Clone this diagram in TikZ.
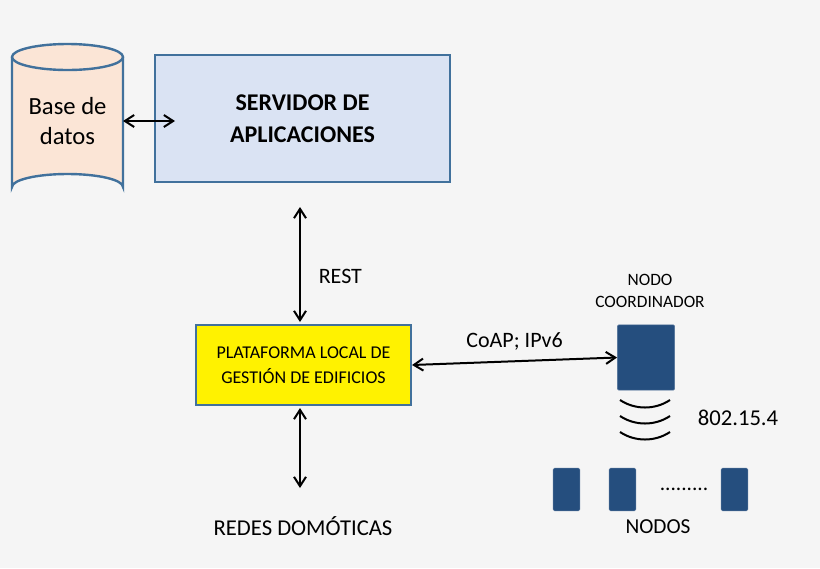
\documentclass[tikz,border=0pt]{standalone}
\usepackage{fontspec}
\setmainfont{Carlito}
\usepackage{tikz}
\usetikzlibrary{arrows.meta}
\definecolor{bordeazul}{HTML}{41719C}
\definecolor{azulnodo}{HTML}{254E7E}
\definecolor{melocoton}{HTML}{FBE5D6}
\definecolor{azulclaro}{HTML}{DAE3F3}
\tikzset{
	flecha/.style={{Straight Barb[length=7pt, width=9pt]}-{Straight Barb[length=7pt, width=9pt]}, line width=1.5pt},
	caja/.style={draw=bordeazul, line width=1.8pt},
	nodo/.style={fill=azulnodo, draw=azulnodo!80, rounded corners=1pt, inner sep=0pt},
}
\begin{document}
\begin{tikzpicture}[x=0.75pt, y=-0.75pt]
	\fill[black!4] (0,0) rectangle (820,568);
	\useasboundingbox (0,0) rectangle (820,568);

	% base de datos
	\draw[caja, fill=melocoton] (12,57) -- (12,187) arc[start angle=180, end angle=360, x radius=55.5, y radius=13] -- (123,57);
	\draw[caja, fill=melocoton] (67.5,57) ellipse[x radius=55.5, y radius=13];
	\node[align=center, font=\fontsize{18.5}{22}\selectfont] (bd) at (67.5,121) {Base de\\datos};
	\coordinate (bdder) at (123,121);

	% servidor
	\node[caja, fill=azulclaro, minimum width=221pt, minimum height=95pt, align=center,
		font=\bfseries\fontsize{18}{24}\selectfont] (serv) at (302.5,118.5) {SERVIDOR DE\\APLICACIONES};
	\coordinate (servizq) at (175,121);

	% plataforma
	\node[caja, fill=yellow, minimum width=161pt, minimum height=60pt, align=center,
		font=\fontsize{13.5}{19}\selectfont] (plat) at (303.5,365) {PLATAFORMA LOCAL DE\\GESTIÓN DE EDIFICIOS};
	\coordinate (servsur) at (300,207);
	\coordinate (platnorte) at (300,322);
	\coordinate (platsur) at (300,408);
	\coordinate (redes) at (300,488);

	% nodo coordinador
	\node[nodo, minimum width=43pt, minimum height=49pt] (coord) at (646,357.5) {};
	\node[align=center, font=\fontsize{13}{16}\selectfont] (lcoord) at (650,291) {NODO\\COORDINADOR};

	% nodos
	\foreach \x/\nombre in {566.5/n1, 622.5/n2, 734.5/n3}
		\node[nodo, minimum width=20pt, minimum height=32pt] (\nombre) at (\x,489.5) {};
	\node[font=\fontsize{16}{18}\selectfont] (puntos) at (684,489) {.........};
	\node[font=\fontsize{16}{18}\selectfont] (lnodos) at (658,527) {NODOS};

	% ondas
	\foreach \y in {405,421,437}
		\draw[line width=1.5pt] (620,\y-5) .. controls (635,\y+5) and (655,\y+5) .. (670,\y-5);
	\node[font=\fontsize{17}{20}\selectfont] (l802) at (738,418) {802.15.4};

	% conexiones
	\draw[flecha] (bdder) -- (servizq);
	\draw[flecha] (servsur) -- node[pos=0.6, right=10pt, font=\fontsize{16.5}{19}\selectfont] {REST} (platnorte);
	\draw[flecha] (plat.east) -- node[above=4pt, font=\fontsize{16.5}{19}\selectfont] {CoAP; IPv6} (coord.west);
	\draw[flecha] (platsur) -- (redes);
	\node[font=\fontsize{17}{20}\selectfont] (lredes) at (303,526) {REDES DOMÓTICAS};
\end{tikzpicture}
\end{document}
